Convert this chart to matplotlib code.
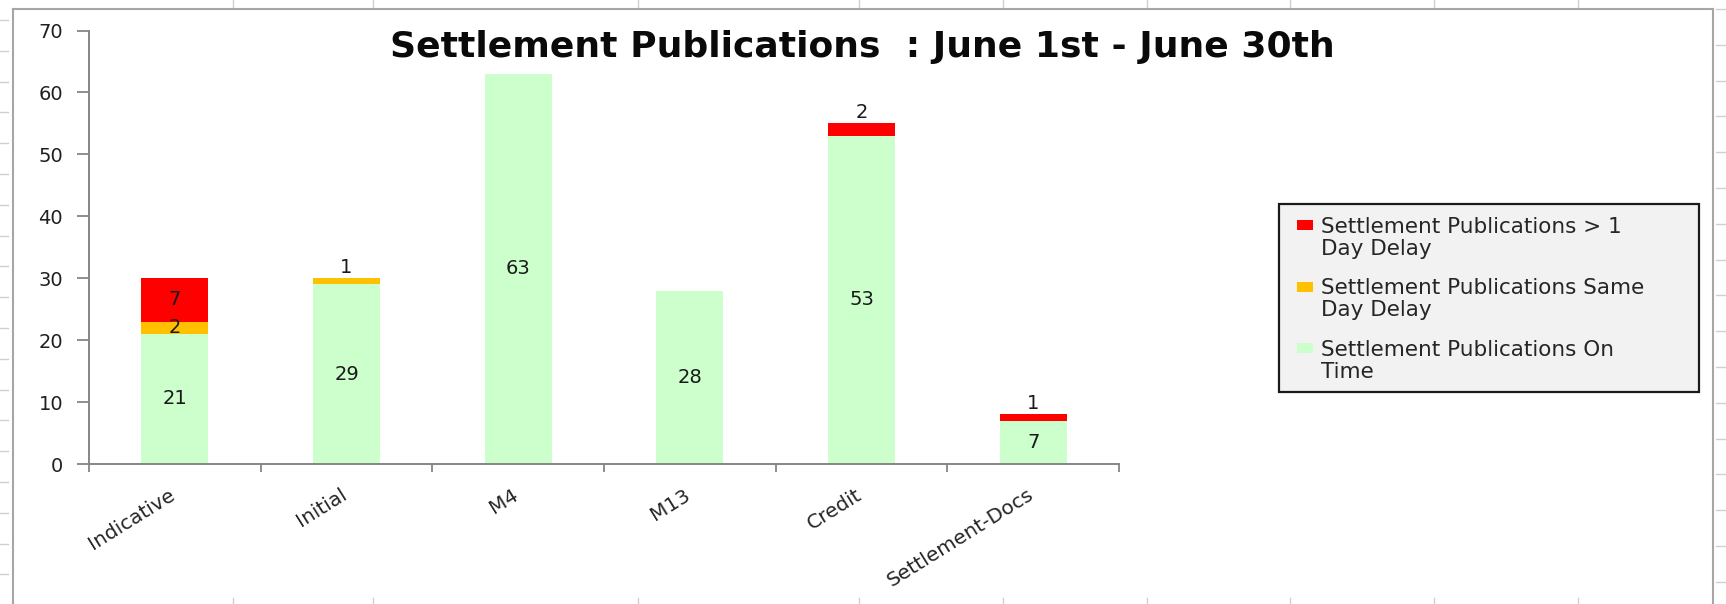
import matplotlib
matplotlib.use('Agg')
import matplotlib.pyplot as plt
import numpy as np
from matplotlib.patches import Rectangle
from matplotlib.lines import Line2D

W, H = 1726, 604

# data
categories = ['Indicative', 'Initial', 'M4', 'M13', 'Credit', 'Settlement-Docs']
on_time = [21, 29, 63, 28, 53, 7]
same_day = [2, 1, 0, 0, 0, 0]
over_day = [7, 0, 0, 0, 2, 1]

series_names = ['Settlement Publications > 1\nDay Delay',
                'Settlement Publications Same\nDay Delay',
                'Settlement Publications On\nTime']
series_colors = ['#ff0000', '#ffc000', '#ccffcc']

title = 'Settlement Publications  : June 1st - June 30th'
yticks = [0, 10, 20, 30, 40, 50, 60, 70]

plt.rcParams['font.family'] = ['DejaVu Sans']

fig = plt.figure(figsize=(W / 100, H / 100), dpi=100)


def fx(px):
    return px / W


def fy(py):
    return 1 - py / H


ax = fig.add_axes([fx(89), fy(464), fx(1119) - fx(89), fy(30.5) - fy(464)])

x = np.arange(len(categories))
totals = np.array(on_time) + np.array(same_day) + np.array(over_day)
bottom = np.zeros(len(categories))
label_kw = dict(fontsize=14, color='#1a1a1a', ha='center')

# stacked from the bottom: on time, same day, > 1 day
for vals, color in zip([on_time, same_day, over_day], series_colors[::-1]):
    vals = np.array(vals)
    ax.bar(x, vals, 0.39, bottom=bottom, color=color, linewidth=0, zorder=2)
    for i, v in enumerate(vals):
        if v == 0:
            continue
        top = bottom[i] + v
        if top == totals[i] and v <= 2 and bottom[i] > 0:
            # thin band on top of the bar: value goes just above it
            ax.annotate(str(v), (x[i], top), xytext=(0, 1),
                        textcoords='offset points', va='bottom', **label_kw)
        else:
            ax.text(x[i], bottom[i] + v / 2, str(v), va='center', **label_kw)
    bottom = bottom + vals

ax.set_xlim(-0.5, len(categories) - 0.5)
ax.set_ylim(0, 70)
ax.set_yticks(yticks)
ax.set_xticks(np.arange(-0.5, len(categories), 1))
ax.set_xticklabels([])
ax.tick_params(axis='y', length=8.6, width=1.3, color='#868686',
               labelsize=14, labelcolor='#202020', pad=10)
ax.tick_params(axis='x', length=5.8, width=1.3, color='#868686')
for s in ['top', 'right']:
    ax.spines[s].set_visible(False)
for s in ['left', 'bottom']:
    ax.spines[s].set_color('#868686')
    ax.spines[s].set_linewidth(1.4)

for i, name in enumerate(categories):
    ax.text(x[i] - 0.035, -21 / 433.5, name, transform=ax.get_xaxis_transform(),
            rotation=32, rotation_mode='anchor', ha='right', va='top',
            fontsize=14.5, color='#262626')

fig.text(0.4995, fy(57), title, ha='center', va='baseline',
         fontsize=26, fontweight='bold', color='#0a0a0a')

# legend box
fig.patches.append(Rectangle((fx(1279), fy(392)), fx(1699) - fx(1279), fy(204) - fy(392),
                             transform=fig.transFigure, facecolor='#f2f2f2',
                             edgecolor='#1a1a1a', linewidth=1.6))
for k, (name, color) in enumerate(zip(series_names, series_colors)):
    yc = 225 + 61.5 * k
    fig.patches.append(Rectangle((fx(1297), fy(yc + 5)), fx(16), 10 / H,
                                 transform=fig.transFigure, facecolor=color,
                                 linewidth=0))
    # baseline alignment follows the last of the two lines
    fig.text(fx(1321), fy(yc + 7 + 23), name, ha='left', va='baseline',
             fontsize=15.5, color='#262626', linespacing=1.13)

# sheet frame and cell grid stubs around it
grid = '#d0d0d0'
frame = '#a6a6a6'
for ly in np.arange(20, H, 30.8):
    fig.add_artist(Line2D([0, fx(8)], [fy(ly)] * 2, color=grid, lw=1))
for ry in np.arange(188 - 35.8 * 5, H, 35.8):
    fig.add_artist(Line2D([fx(1716), 1], [fy(ry)] * 2, color=grid, lw=1))
for cx in [233, 373, 638, 859, 1003, 1147, 1290, 1434, 1578]:
    fig.add_artist(Line2D([fx(cx)] * 2, [1, fy(7)], color=grid, lw=1))
    fig.add_artist(Line2D([fx(cx)] * 2, [0, fy(598)], color=grid, lw=1))
fig.add_artist(Line2D([fx(12.7), fx(12.7)], [0, fy(9)], color=frame, lw=1.5))
fig.add_artist(Line2D([fx(12.7), fx(1713)], [fy(9), fy(9)], color=frame, lw=1.5))
fig.add_artist(Line2D([fx(1713), fx(1713)], [fy(9), 0], color=frame, lw=1.5))

fig.savefig('out.png', dpi=100)
